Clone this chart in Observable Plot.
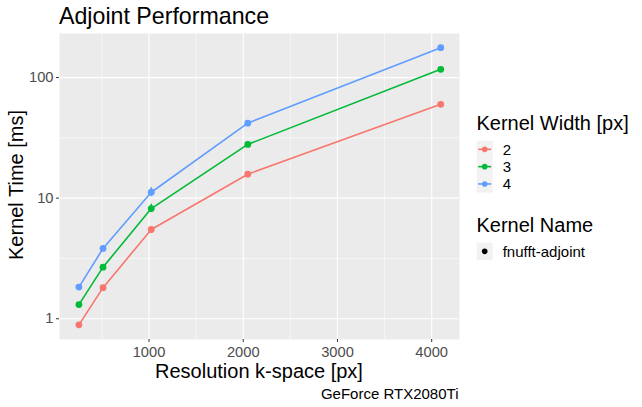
<!DOCTYPE html>
<html>
<head>
<meta charset="utf-8">
<script src="https://cdn.jsdelivr.net/npm/d3@7"></script>
<script src="https://cdn.jsdelivr.net/npm/@observablehq/plot@0.6"></script>
<style>
  html, body { margin: 0; padding: 0; background: white; }
  #wrap { position: relative; width: 642px; height: 407px; font-family: "Liberation Sans", Arial, sans-serif; }
  #chart, #overlay { position: absolute; left: 0; top: 0; }
  #overlay { pointer-events: none; }
</style>
</head>
<body>
<div id="wrap">
  <div id="chart"></div>
  <svg id="overlay" width="642" height="407"></svg>
</div>
<script>
// ---- data ----
const kernelWidths = ["2", "3", "4"];
const widthColors = ["#F8766D", "#00BA38", "#619CFF"];
const resolution = [256, 512, 1024, 2048, 4096];
const timeWidth2 = [0.89, 1.81, 5.5, 15.8, 60];
const timeWidth3 = [1.31, 2.68, 8.2, 27.9, 117];
const timeWidth4 = [1.83, 3.83, 11.2, 41.9, 177];
const errWidths = ["3", "4"];
const errResolution = [1024, 1024];
const errLow = [7.6, 10.3];
const errHigh = [8.9, 12.2];
const xTicks = [1000, 2000, 3000, 4000];
const xMinor = [500, 1500, 2500, 3500];
const yTicks = [1, 10, 100];
const yMinor = [3.162, 31.62];
const kernelNames = ["fnufft-adjoint"];

const series = [timeWidth2, timeWidth3, timeWidth4];
const rows = [];
kernelWidths.forEach((w, i) => resolution.forEach((r, j) => rows.push({width: w, res: r, time: series[i][j]})));
const errRows = errWidths.map((w, i) => ({width: w, res: errResolution[i], lo: errLow[i], hi: errHigh[i]}));

const plot = Plot.plot({
  width: 642,
  height: 407,
  marginLeft: 59,
  marginRight: 183,
  marginTop: 33,
  marginBottom: 68,
  style: {fontFamily: "'Liberation Sans', Arial, sans-serif", background: "transparent", overflow: "visible"},
  x: {domain: [50, 4295]},
  y: {type: "log", domain: [0.673, 232]},
  color: {domain: kernelWidths, range: widthColors},
  marks: [
    Plot.frame({fill: "#ebebeb", stroke: null}),
    Plot.gridX(xMinor, {stroke: "white", strokeOpacity: 1, strokeWidth: 0.55}),
    Plot.gridY(yMinor, {stroke: "white", strokeOpacity: 1, strokeWidth: 0.55}),
    Plot.gridX(xTicks, {stroke: "white", strokeOpacity: 1, strokeWidth: 1.1}),
    Plot.gridY(yTicks, {stroke: "white", strokeOpacity: 1, strokeWidth: 1.1}),
    Plot.axisX(xTicks, {tickSize: 3, tickPadding: 4, stroke: "#333333", fill: "#4d4d4d", fontSize: 14.7, label: null, tickFormat: d => String(d)}),
    Plot.axisY(yTicks, {tickSize: 3, tickPadding: 3, stroke: "#333333", fill: "#4d4d4d", fontSize: 14.7, label: null, tickFormat: d => String(d)}),
    Plot.line(rows, {x: "res", y: "time", z: "width", stroke: "width", strokeWidth: 1.6}),
    Plot.ruleX(errRows, {x: "res", y1: "lo", y2: "hi", stroke: "width", strokeWidth: 1.6}),
    Plot.dot(rows, {x: "res", y: "time", fill: "width", r: 3.4})
  ]
});
document.getElementById("chart").appendChild(plot);

// ---- titles, caption, legends ----
const ov = d3.select("#overlay");
const ff = "'Liberation Sans', Arial, sans-serif";
function txt(x, y, s, size, opts = {}) {
  const t = ov.append("text").attr("x", x).attr("y", y).text(s)
    .attr("font-family", ff).attr("font-size", size).attr("fill", opts.fill || "black")
    .attr("text-anchor", opts.anchor || "start");
  if (opts.rotate) t.attr("transform", `rotate(-90, ${x}, ${y})`);
  return t;
}
txt(59, 23.5, "Adjoint Performance", 23.2);
txt(259, 378, "Resolution k-space [px]", 20, {anchor: "middle"});
txt(23, 185, "Kernel Time [ms]", 20, {anchor: "middle", rotate: true});
txt(458.5, 399, "GeForce RTX2080Ti", 15, {anchor: "end"});

// Legend: Kernel Width
txt(476.5, 130, "Kernel Width [px]", 20);
const keyX = 476.7, keyW = 16, rowH = 17.3, key0 = 140.7;
kernelWidths.forEach((w, i) => {
  const y0 = key0 + i * rowH;
  ov.append("rect").attr("x", keyX).attr("y", y0).attr("width", keyW).attr("height", rowH).attr("fill", "#f2f2f2");
  const cy = y0 + rowH / 2;
  ov.append("line").attr("x1", keyX + 1.5).attr("x2", keyX + keyW - 1.5).attr("y1", cy).attr("y2", cy)
    .attr("stroke", widthColors[i]).attr("stroke-width", 1.6);
  ov.append("circle").attr("cx", keyX + keyW / 2).attr("cy", cy).attr("r", 2.8).attr("fill", widthColors[i]);
  txt(502.7, cy + 5.3, w, 15);
});

// Legend: Kernel Name
txt(476.5, 231.7, "Kernel Name", 20);
kernelNames.forEach((n, i) => {
  const y0 = 242.7 + i * rowH;
  ov.append("rect").attr("x", keyX).attr("y", y0).attr("width", keyW).attr("height", rowH).attr("fill", "#f2f2f2");
  const cy = y0 + rowH / 2;
  ov.append("circle").attr("cx", keyX + keyW / 2).attr("cy", cy).attr("r", 2.8).attr("fill", "black");
  txt(502.7, cy + 5.3, n, 15);
});
</script>
</body>
</html>
